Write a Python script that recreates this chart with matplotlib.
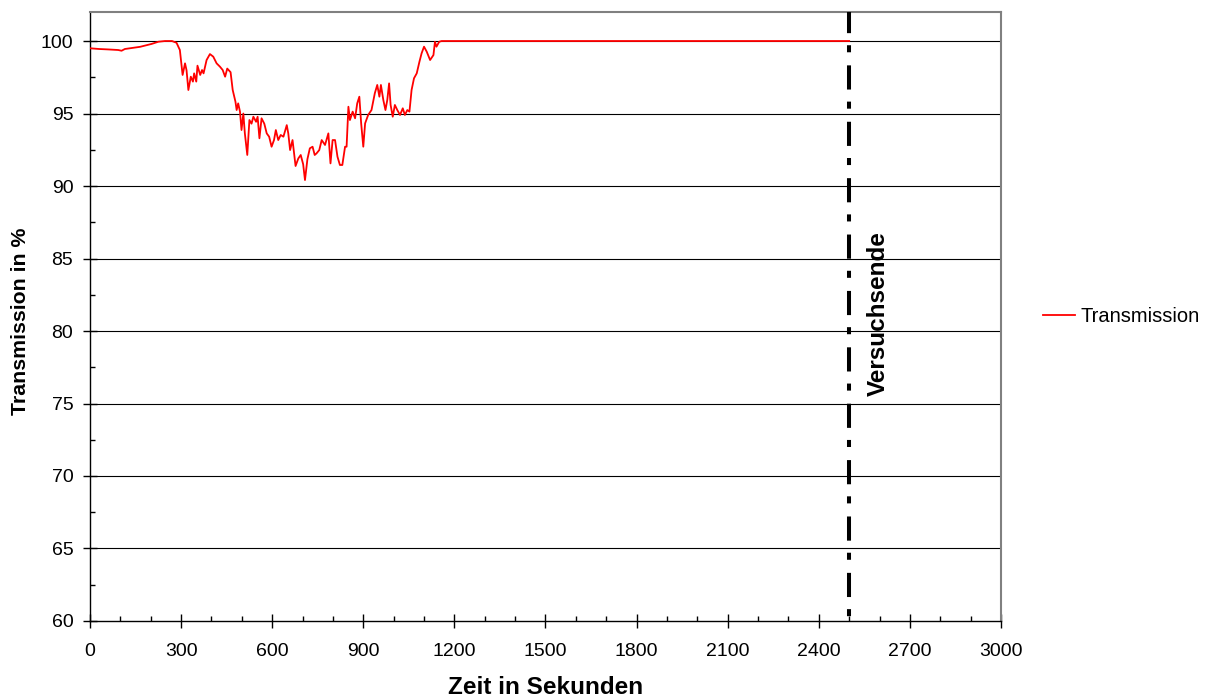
import matplotlib
matplotlib.use("Agg")
import matplotlib.pyplot as plt
from matplotlib.ticker import MultipleLocator

plt.rcParams['font.family'] = ['Liberation Sans', 'DejaVu Sans']

# time in seconds and transmission in percent
zeit = [0, 30, 60, 93, 104, 115, 165, 203, 225, 247, 270, 285, 296, 305, 313, 318,
        324, 332, 339, 343, 350, 354, 363, 369, 374, 384, 395, 406, 417, 428, 437,
        445, 452, 463, 470, 479, 483, 488, 494, 499, 505, 510, 518, 525, 532, 538,
        547, 552, 558, 565, 574, 582, 590, 598, 606, 612, 620, 628, 637, 648, 653,
        659, 667, 677, 686, 694, 702, 708, 716, 724, 733, 740, 746, 755, 763, 774,
        785, 792, 799, 807, 815, 823, 831, 840, 845, 851, 856, 865, 873, 880, 887,
        893, 900, 906, 916, 927, 938, 946, 953, 958, 966, 973, 979, 985, 990, 997,
        1004, 1012, 1021, 1030, 1037, 1045, 1052, 1059, 1067, 1076, 1085, 1092,
        1100, 1109, 1120, 1131, 1136, 1141, 1150, 1158, 2500]
transmission = [99.5, 99.45, 99.42, 99.38, 99.33, 99.45, 99.6, 99.8, 99.95, 100.0,
                100.0, 99.88, 99.38, 97.66, 98.46, 97.98, 96.62, 97.54, 97.2, 97.77,
                97.2, 98.3, 97.66, 98.0, 97.77, 98.69, 99.1, 98.92, 98.46, 98.23,
                98.0, 97.54, 98.1, 97.85, 96.62, 95.82, 95.24, 95.7, 95.13, 93.86,
                95.0, 93.63, 92.14, 94.55, 94.3, 94.78, 94.43, 94.78, 93.29, 94.67,
                94.3, 93.63, 93.4, 92.71, 93.17, 93.86, 93.17, 93.52, 93.4, 94.2,
                93.63, 92.48, 93.17, 91.38, 91.9, 92.14, 91.5, 90.41, 91.85, 92.6,
                92.71, 92.14, 92.25, 92.48, 93.17, 92.83, 93.63, 91.56, 93.17, 93.17,
                92.02, 91.45, 91.45, 92.71, 92.71, 95.47, 94.55, 95.13, 94.67, 95.7,
                96.16, 94.32, 92.71, 94.32, 94.9, 95.24, 96.4, 96.97, 96.16, 96.97,
                95.93, 95.24, 95.93, 97.08, 95.59, 94.78, 95.59, 95.24, 94.9, 95.36,
                94.9, 95.24, 95.13, 96.62, 97.43, 97.77, 98.58, 99.15, 99.61, 99.26,
                98.69, 99.03, 99.95, 99.61, 99.95, 100.0, 100.0]

versuchsende = 2500
x_ticks = list(range(0, 3001, 300))
y_ticks = list(range(60, 101, 5))

fig = plt.figure(figsize=(12.11, 6.99), dpi=100)
ax = fig.add_axes([0.0743, 0.1116, 0.7523, 0.8712])

ax.set_xlim(0, 3000)
ax.set_ylim(60, 102)
ax.set_xticks(x_ticks)
ax.set_yticks(y_ticks)
ax.xaxis.set_minor_locator(MultipleLocator(100))
ax.yaxis.set_minor_locator(MultipleLocator(2.5))

for y in y_ticks[1:]:
    ax.axhline(y, color='black', lw=0.8, zorder=1)

ax.plot(zeit, transmission, color='red', lw=1.3, label='Transmission', zorder=3)

ax.plot([versuchsende, versuchsende], [102, 60], color='black', lw=2.9,
        linestyle=(0.75, (6, 3, 1.75, 3.25)), zorder=4)
ax.text(2595, 81.2, 'Versuchsende', rotation=90, ha='center', va='center',
        fontsize=17.5, fontweight='bold')

for s in ['top', 'right']:
    ax.spines[s].set_color('#808080')
    ax.spines[s].set_linewidth(1.5)
for s in ['left', 'bottom']:
    ax.spines[s].set_color('black')
    ax.spines[s].set_linewidth(1.0)

ax.tick_params(which='major', direction='inout', length=10, width=1, labelsize=14)
ax.tick_params(which='minor', direction='in', length=3.5, width=1)
ax.tick_params(axis='x', which='major', pad=11)
ax.tick_params(axis='y', which='major', pad=7)

ax.set_xlabel('Zeit in Sekunden', fontsize=17.5, fontweight='bold')
ax.xaxis.set_label_coords(0.5, -0.090)
ax.set_ylabel('Transmission in %', fontsize=15.3, fontweight='bold')
ax.yaxis.set_label_coords(-0.066, 0.4926)

fig.legend(loc='center left', bbox_to_anchor=(0.8613, 0.5465), frameon=False,
           fontsize=14.5, handlelength=1.6, handletextpad=0.25, borderpad=0,
           borderaxespad=0)

fig.savefig('out.png', dpi=100)
